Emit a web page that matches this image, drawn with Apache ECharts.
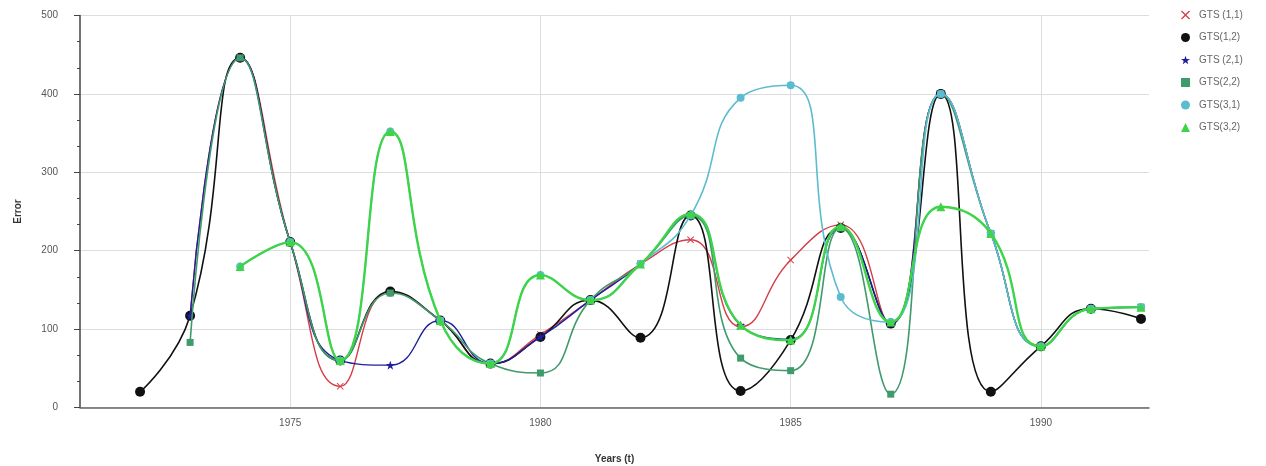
<!DOCTYPE html>
<html>
<head>
<meta charset="utf-8">
<script src="https://cdn.jsdelivr.net/npm/echarts@6/dist/echarts.min.js"></script>
<style>
html,body{margin:0;padding:0;background:#fff;}
#chart{width:1266px;height:466px;}
</style>
</head>
<body>
<div id="chart"></div>
<script>
// ---- data ----
const years = [1972,1973,1974,1975,1976,1977,1978,1979,1980,1981,1982,1983,1984,1985,1986,1987,1988,1989,1990,1991,1992];
const seriesNames = ['GTS (1,1)','GTS(1,2)','GTS (2,1)','GTS(2,2)','GTS(3,1)','GTS(3,2)'];
const gts11 = [null,117,446,211,27,148,111,56,93,137,183,214,103,188,233,107,400,222,78,126,128];
const gts12 = [20,117,446,211,60,148,111,56,90,137,89,245,21,86,229,107,400,20,78,126,113];
const gts21 = [null,117,446,211,60,54,111,56,90,137,183,245,105,87,229,107,400,222,78,126,128];
const gts22 = [null,83,446,211,60,146,111,56,44,137,183,245,63,47,229,17,400,222,78,126,128];
const gts31 = [null,null,180,211,60,352,111,56,169,137,183,245,395,411,141,109,400,222,78,126,128];
const gts32 = [null,null,180,211,60,352,111,56,169,137,183,247,105,86,231,109,256,222,78,126,128];
const xTicks = [1975,1980,1985,1990];

const crossPath = 'path://M1,0L5,4L9,0L10,1L6,5L10,9L9,10L5,6L1,10L0,9L4,5L0,1Z';
const starPath = 'path://M5,0L6.2,3.6L10,3.6L7,5.9L8.1,9.5L5,7.3L1.9,9.5L3,5.9L0,3.6L3.8,3.6Z';

const styles = [
  {color:'#d63c46', symbol:crossPath, size:7, width:1.4},
  {color:'#111111', symbol:'circle', size:10, width:1.6},
  {color:'#1f1f9e', symbol:starPath, size:9, width:1.4},
  {color:'#3f9a6c', symbol:'rect', size:7, width:1.6},
  {color:'#5cbccf', symbol:'circle', size:8, width:1.6},
  {color:'#3ed44a', symbol:'triangle', size:9, width:2.4}
];
const allValues = [gts11,gts12,gts21,gts22,gts31,gts32];

function pairs(vals){
  const out=[];
  vals.forEach((v,i)=>{ if(v!==null) out.push([years[i],v]); });
  return out;
}

const series = allValues.map((vals,i)=>({
  name: seriesNames[i],
  type:'line',
  smooth:0.5,
  data:pairs(vals),
  symbol:styles[i].symbol,
  symbolSize:styles[i].size,
  lineStyle:{color:styles[i].color,width:styles[i].width},
  itemStyle:{color:styles[i].color},
  emphasis:{disabled:true},
  z:2+i
}));

const font = 'Liberation Sans, Arial, sans-serif';
const chart = echarts.init(document.getElementById('chart'),null,{renderer:'canvas'});
chart.setOption({
  animation:false,
  backgroundColor:'#fff',
  grid:{left:80,right:117,top:15.5,bottom:58.5,containLabel:false,outerBoundsMode:'none'},
  legend:{
    orient:'vertical',
    left:1176,
    top:5,
    itemGap:12.5,
    itemWidth:9,
    itemHeight:9,
    textStyle:{fontSize:10,color:'#666',fontFamily:font,padding:[0,0,0,4]},
    data:seriesNames.map((n,i)=>({name:n,icon:styles[i].symbol}))
  },
  xAxis:{
    type:'value',
    min:1970.8,
    max:1992.16,
    name:'Years (t)',
    nameLocation:'middle',
    nameGap:47,
    nameTextStyle:{fontSize:10,fontWeight:'bold',color:'#333',fontFamily:font},
    axisLine:{show:true,onZero:false,lineStyle:{color:'#666',width:1.5}},
    axisTick:{show:false,customValues:xTicks},
    axisLabel:{customValues:xTicks,formatter:v=>String(v),fontSize:10,color:'#555',margin:11,fontFamily:font},
    splitLine:{show:true,lineStyle:{color:'#dddddd',width:1}}
  },
  yAxis:{
    type:'value',
    min:0,
    max:500,
    interval:100,
    name:'Error',
    nameLocation:'middle',
    nameGap:57,
    nameRotate:90,
    nameTextStyle:{fontSize:10,fontWeight:'bold',color:'#333',fontFamily:font},
    axisLine:{show:true,lineStyle:{color:'#444',width:1.5}},
    axisTick:{show:true,length:6,lineStyle:{color:'#444'}},
    minorTick:{show:true,splitNumber:3,length:3,lineStyle:{color:'#444'}},
    axisLabel:{fontSize:10,color:'#555',margin:22,fontFamily:font},
    splitLine:{show:true,lineStyle:{color:'#dddddd',width:1}}
  },
  series:series
});
</script>
</body>
</html>
